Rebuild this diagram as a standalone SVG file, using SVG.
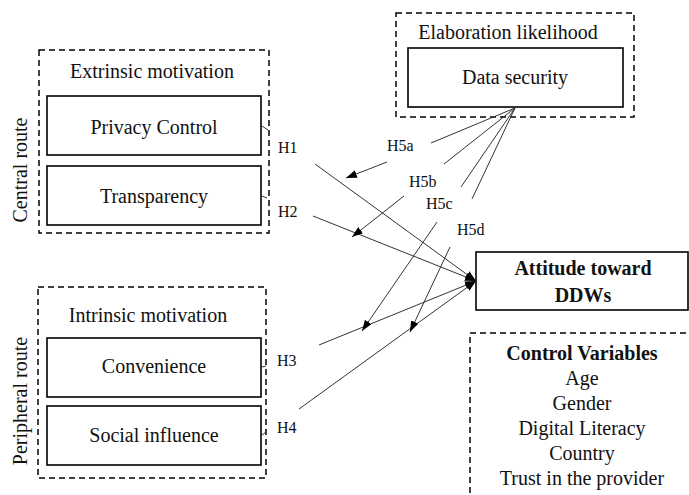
<svg xmlns="http://www.w3.org/2000/svg" width="689" height="495" viewBox="0 0 689 495">
<style>
text{font-family:"Liberation Serif","Times New Roman",serif;fill:#111}
.t{font-size:20px;text-anchor:middle}
.b{font-weight:bold}
.h{font-size:16px}
.box{fill:none;stroke:#000;stroke-width:1.6}
.dash{fill:none;stroke:#000;stroke-width:1.5;stroke-dasharray:6 4}
.ln{fill:none;stroke:#333;stroke-width:1}
</style>
<defs>
<marker id="ah" markerWidth="11" markerHeight="8" refX="11" refY="4" orient="auto" markerUnits="userSpaceOnUse"><path d="M0,0 L11,4 L0,8 z" fill="#000"/></marker>
</defs>
<rect width="689" height="495" fill="#fff"/>
<g id="elaboration">
<rect class="dash" x="396" y="13" width="238" height="104"/>
<text class="t" x="508" y="39">Elaboration likelihood</text>
</g>
<g id="data-security">
<rect class="box" x="408" y="48" width="215" height="59"/>
<text class="t" x="515" y="84">Data security</text>
</g>
<g id="extrinsic">
<rect class="dash" x="39" y="50" width="230" height="183"/>
<text class="t" x="152" y="78">Extrinsic motivation</text>
<text class="t" transform="translate(27,170) rotate(-90)">Central route</text>
</g>
<g id="privacy-control">
<rect class="box" x="47" y="96" width="214" height="59"/>
<text class="t" x="154" y="134">Privacy Control</text>
</g>
<g id="transparency">
<rect class="box" x="47" y="166" width="214" height="59"/>
<text class="t" x="154" y="203">Transparency</text>
</g>
<g id="intrinsic">
<rect class="dash" x="38" y="287" width="228" height="191"/>
<text class="t" x="148" y="322">Intrinsic motivation</text>
<text class="t" transform="translate(27,401) rotate(-90)">Peripheral route</text>
</g>
<g id="convenience">
<rect class="box" x="47" y="338" width="214" height="59"/>
<text class="t" x="154" y="373">Convenience</text>
</g>
<g id="social-influence">
<rect class="box" x="47" y="406" width="214" height="59"/>
<text class="t" x="154" y="442">Social influence</text>
</g>
<g id="attitude">
<rect class="box" x="476" y="252" width="212" height="58"/>
<text class="t b" x="583" y="275">Attitude toward</text>
<text class="t b" x="583" y="302">DDWs</text>
</g>
<g id="control-variables">
<rect class="dash" x="470" y="333" width="240" height="200"/>
<text class="t b" x="582" y="360">Control Variables</text>
<text class="t" x="582" y="385">Age</text>
<text class="t" x="582" y="410">Gender</text>
<text class="t" x="582" y="435">Digital Literacy</text>
<text class="t" x="582" y="460">Country</text>
<text class="t" x="582" y="485">Trust in the provider</text>
</g>
<g id="connectors">
<line class="ln" x1="262" y1="126" x2="268" y2="130"/>
<line class="ln" x1="315" y1="164" x2="476" y2="281" marker-end="url(#ah)"/>
<line class="ln" x1="262" y1="196" x2="267" y2="198"/>
<line class="ln" x1="313" y1="216" x2="476" y2="281" marker-end="url(#ah)"/>
<line class="ln" x1="262" y1="367" x2="266" y2="366"/>
<line class="ln" x1="319" y1="345" x2="476" y2="281" marker-end="url(#ah)"/>
<line class="ln" x1="262" y1="435" x2="266" y2="432"/>
<line class="ln" x1="299" y1="409" x2="476" y2="281" marker-end="url(#ah)"/>
<line class="ln" x1="515" y1="108" x2="431" y2="143"/>
<line class="ln" x1="387" y1="162" x2="346" y2="178" marker-end="url(#ah)"/>
<line class="ln" x1="515" y1="108" x2="444" y2="164"/>
<line class="ln" x1="404" y1="196" x2="352" y2="237" marker-end="url(#ah)"/>
<line class="ln" x1="515" y1="108" x2="461" y2="187"/>
<line class="ln" x1="437" y1="222" x2="362" y2="331" marker-end="url(#ah)"/>
<line class="ln" x1="515" y1="108" x2="472" y2="199"/>
<line class="ln" x1="450" y1="247" x2="410" y2="332" marker-end="url(#ah)"/>
</g>
<g id="labels">
<text class="h" x="278" y="153">H1</text>
<text class="h" x="278" y="217">H2</text>
<text class="h" x="277" y="366">H3</text>
<text class="h" x="277" y="433">H4</text>
<text class="h" x="387" y="151">H5a</text>
<text class="h" x="409" y="187">H5b</text>
<text class="h" x="426" y="209">H5c</text>
<text class="h" x="457" y="235">H5d</text>
</g>
</svg>
